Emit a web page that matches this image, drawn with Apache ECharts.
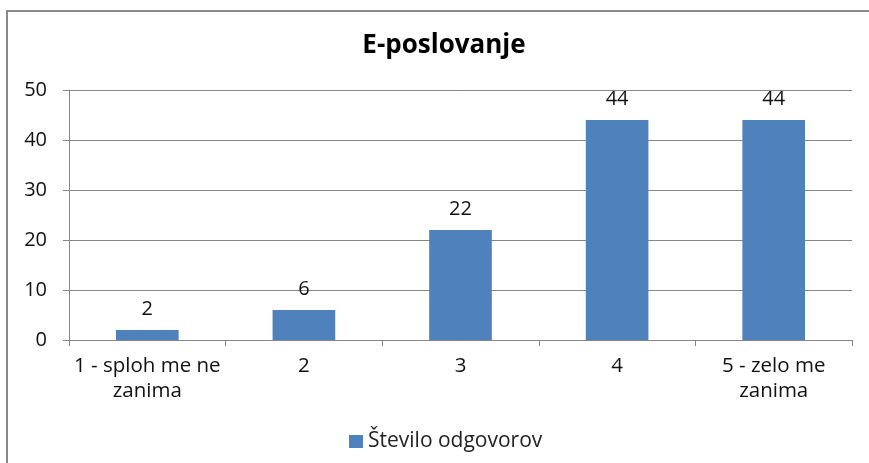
<!DOCTYPE html>
<html><head><meta charset="utf-8">
<script src="https://cdn.jsdelivr.net/npm/echarts@6/dist/echarts.min.js"></script>
<style>html,body{margin:0;padding:0;background:#fff}#c{width:869px;height:463px}</style>
</head><body><div id="c"></div>
<script>
const categories = ["1 - sploh me ne\nzanima", "2", "3", "4", "5 - zelo me\nzanima"];
const values = [2, 6, 22, 44, 44];
const seriesName = "Število odgovorov";
const titleText = "E-poslovanje";

const chart = echarts.init(document.getElementById('c'));
const font = "'Open Sans', sans-serif";
chart.setOption({
  animation: false,
  backgroundColor: '#fff',
  title: { text: titleText, left: 439, textAlign: 'center', top: 28, itemGap: 0,
    textStyle: { fontFamily: font, fontSize: 26, fontWeight: 'bold', color: '#000' } },
  graphic: [{ type: 'rect', shape: { x: 7, y: 11, width: 900, height: 500 },
    style: { fill: 'none', stroke: '#898989', lineWidth: 2 }, silent: true }],
  grid: { left: 69, right: 17, top: 90, bottom: 123, containLabel: false },
  legend: { top: 426, left: 344, itemWidth: 14, itemHeight: 13, itemGap: 10,
    icon: 'rect', textStyle: { fontFamily: font, fontSize: 21, color: '#222', padding: [0, 0, 0, 0] },
    data: [seriesName] },
  xAxis: { type: 'category', data: categories,
    axisLine: { lineStyle: { color: '#868686', width: 1 } },
    axisTick: { show: true, length: 6, alignWithLabel: false, lineStyle: { color: '#868686' } },
    axisLabel: { interval: 0, margin: 14, fontFamily: font, fontSize: 20.5, lineHeight: 25, color: '#111' } },
  yAxis: { type: 'value', min: 0, max: 50, interval: 10,
    axisLine: { show: true, lineStyle: { color: '#868686' } },
    axisTick: { show: true, length: 6, lineStyle: { color: '#868686' } },
    splitLine: { lineStyle: { color: '#868686', width: 1 } },
    axisLabel: { margin: 22, fontFamily: font, fontSize: 20, color: '#111' } },
  series: [{ name: seriesName, type: 'bar', data: values, barWidth: '40%',
    itemStyle: { color: '#4F81BD' },
    label: { show: true, position: 'top', distance: 11, fontFamily: font, fontSize: 20, color: '#111' } }]
});
</script></body></html>
